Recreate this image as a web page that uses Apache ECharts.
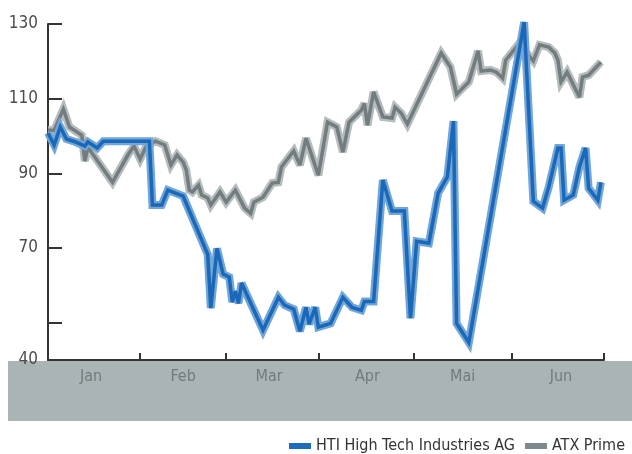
<!DOCTYPE html>
<html>
<head>
<meta charset="utf-8">
<script src="https://cdn.jsdelivr.net/npm/echarts@6/dist/echarts.min.js"></script>
<style>
html,body{margin:0;padding:0;background:#fff;}
#c{width:632px;height:454px;}
</style>
</head>
<body>
<div id="c"></div>
<script>
const monthNames = ['Jan','Feb','Mar','Apr','Mai','Jun'];
const monthLabelDates = ['2012-01-15','2012-02-14','2012-03-13','2012-04-14','2012-05-15','2012-06-16'];
const monthTickDates = ['2012-01-31','2012-02-28','2012-03-29','2012-04-29','2012-05-31','2012-06-30'];
const yLabelValues = [40,70,90,110,130];
const yTickValues = [50,70,90,110,130];

const atxDates = ['2012-01-01','2012-01-03','2012-01-06','2012-01-08','2012-01-10','2012-01-12','2012-01-13','2012-01-14','2012-01-22','2012-01-27','2012-01-29','2012-01-31',
  '2012-02-02','2012-02-05','2012-02-08','2012-02-10','2012-02-12','2012-02-14','2012-02-15','2012-02-16','2012-02-17','2012-02-19','2012-02-20','2012-02-22','2012-02-23','2012-02-26','2012-02-28',
  '2012-03-02','2012-03-05','2012-03-07','2012-03-08','2012-03-11','2012-03-14','2012-03-16','2012-03-17','2012-03-21','2012-03-23','2012-03-25','2012-03-29',
  '2012-04-01','2012-04-04','2012-04-06','2012-04-08','2012-04-12','2012-04-13','2012-04-14','2012-04-16','2012-04-19','2012-04-22','2012-04-23','2012-04-25','2012-04-27',
  '2012-05-08','2012-05-11','2012-05-13','2012-05-17','2012-05-20','2012-05-21','2012-05-24','2012-05-26','2012-05-28','2012-05-29',
  '2012-06-02','2012-06-04','2012-06-07','2012-06-09','2012-06-12','2012-06-14','2012-06-15','2012-06-16','2012-06-18','2012-06-22','2012-06-23','2012-06-25','2012-06-29'];
const atxValues = [101.6,101.5,107.2,102.4,101.3,100.2,93.3,97.0,87.6,94.9,97.3,93.8,
  97.3,98.6,97.6,92.2,94.9,93.0,90.9,85.5,85.0,86.8,84.2,83.4,81.5,85.0,82.3,
  85.5,80.7,79.3,82.3,83.6,87.4,87.6,91.7,96.0,92.2,99.4,89.5,
  103.7,102.4,95.7,103.7,106.9,108.7,102.9,111.8,105.1,104.8,107.7,106.1,103.2,
  122.2,118.5,111.2,114.5,122.8,117.4,117.7,117.1,115.5,120.3,
  124.4,123.0,120.1,124.4,123.8,122.2,120.3,114.5,117.1,110.4,115.8,116.3,119.8];

const htiDates = ['2012-01-01','2012-01-03','2012-01-05','2012-01-07','2012-01-10','2012-01-13','2012-01-14','2012-01-17','2012-01-19',
  '2012-02-03','2012-02-04','2012-02-07','2012-02-09','2012-02-14','2012-02-22','2012-02-23','2012-02-25','2012-02-27','2012-02-29',
  '2012-03-01','2012-03-02','2012-03-03','2012-03-04','2012-03-11','2012-03-16','2012-03-18','2012-03-21','2012-03-23','2012-03-25','2012-03-26','2012-03-28','2012-03-29',
  '2012-04-02','2012-04-06','2012-04-09','2012-04-12','2012-04-13','2012-04-16','2012-04-19','2012-04-22','2012-04-26','2012-04-28','2012-04-30',
  '2012-05-04','2012-05-07','2012-05-10','2012-05-12','2012-05-13','2012-05-17',
  '2012-06-04','2012-06-07','2012-06-10','2012-06-12','2012-06-15','2012-06-16','2012-06-17','2012-06-20','2012-06-22','2012-06-24','2012-06-25','2012-06-28','2012-06-29'];
const htiValues = [100.8,97.6,102.4,99.2,98.4,97.3,98.4,96.8,98.6,
  98.6,81.5,81.5,85.5,83.9,68.3,53.9,69.9,63.0,62.2,
  55.5,58.4,55.2,60.6,48.0,56.8,54.7,53.6,47.7,54.1,49.6,54.1,48.8,
  49.8,56.8,54.1,53.3,55.7,55.7,88.2,79.9,79.9,51.2,71.8,
  71.3,84.7,89.0,104.0,49.8,44.7,
  130.5,82.5,80.7,86.3,96.8,96.8,82.8,84.2,91.7,96.8,86.0,82.8,87.6];

const FONT = 'DejaVu Sans Condensed';
const ts = d => Date.parse(d + 'T00:00:00Z');
const pairs = (ds, vs) => ds.map((d, i) => [ts(d), vs[i]]);
const HTI = 'HTI High Tech Industries AG';
const ATX = 'ATX Prime';

const chart = echarts.init(document.getElementById('c'), null, {renderer: 'canvas'});
chart.setOption({
  animation: false,
  backgroundColor: '#fff',
  graphic: [{
    type: 'rect', z: -5, silent: true,
    shape: {x: 8, y: 361, width: 624, height: 60},
    style: {fill: '#abb4b5'}
  }],
  grid: {left: 48, right: 28, top: 24, bottom: 94, containLabel: false},
  legend: {
    right: 2, top: 433,
    itemWidth: 22, itemHeight: 6, itemGap: 10,
    icon: 'rect',
    textStyle: {fontFamily: FONT, fontSize: 16, color: '#333'},
    data: [
      {name: HTI, itemStyle: {color: '#1f6cba'}},
      {name: ATX, itemStyle: {color: '#7f898b'}}
    ]
  },
  xAxis: {
    type: 'value',
    min: ts('2012-01-01'), max: ts('2012-06-30'),
    axisLine: {show: true, lineStyle: {color: '#333', width: 2}},
    axisTick: {show: true, inside: true, length: 7, lineStyle: {color: '#333', width: 2}, customValues: monthTickDates.map(ts)},
    axisLabel: {
      customValues: monthLabelDates.map(ts),
      color: '#737a7b', fontFamily: FONT, fontSize: 16, margin: 9,
      formatter: v => monthNames[new Date(v).getUTCMonth()]
    },
    splitLine: {show: false}
  },
  yAxis: {
    type: 'value', min: 40, max: 130, interval: 10,
    axisLine: {show: true, lineStyle: {color: '#333', width: 2}},
    axisTick: {show: true, inside: true, length: 14, lineStyle: {color: '#333', width: 2}, customValues: yTickValues},
    axisLabel: {customValues: yLabelValues, color: '#4d4d4d', fontFamily: FONT, fontSize: 17, margin: 10},
    splitLine: {show: false}
  },
  series: [
    {name: ATX, type: 'line', data: pairs(atxDates, atxValues), showSymbol: false, clip: false,
     lineStyle: {color: '#b6bdbe', width: 8, join: 'miter', miterLimit: 3}, z: 2},
    {name: ATX, type: 'line', data: pairs(atxDates, atxValues), showSymbol: false, clip: false,
     lineStyle: {color: '#737d7f', width: 3.5, join: 'miter', miterLimit: 3}, z: 3},
    {name: HTI, type: 'line', data: pairs(htiDates, htiValues), showSymbol: false, clip: false,
     lineStyle: {color: '#72a5d8', width: 8, join: 'miter', miterLimit: 3}, z: 4},
    {name: HTI, type: 'line', data: pairs(htiDates, htiValues), showSymbol: false, clip: false,
     lineStyle: {color: '#1a68b8', width: 3.5, join: 'miter', miterLimit: 3}, z: 5}
  ]
});
</script>
</body>
</html>
